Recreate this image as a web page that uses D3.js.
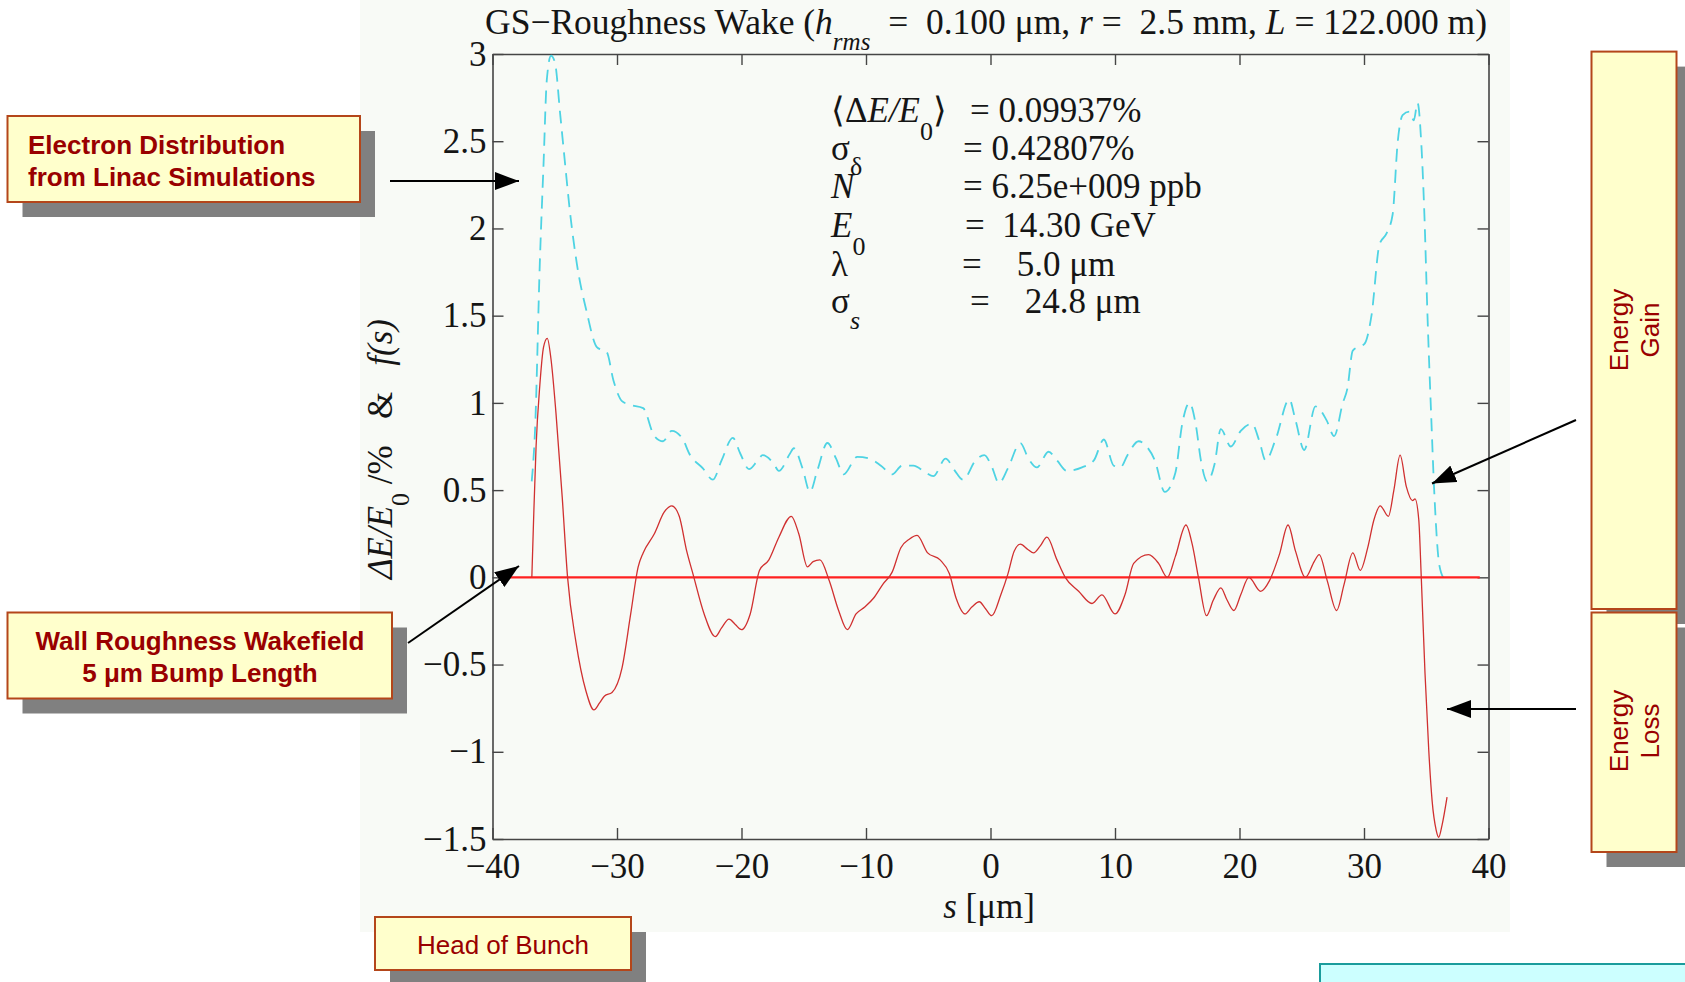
<!DOCTYPE html>
<html>
<head>
<meta charset="utf-8">
<script src="https://cdn.jsdelivr.net/npm/d3@7"></script>
<style>
  body { margin: 0; background: #ffffff; }
  svg text { font-family: "Liberation Serif", "Times New Roman", serif; white-space: pre; fill: #151515; }
  svg .callout text { font-family: "Liberation Sans", Arial, sans-serif; fill: #990000; }
</style>
</head>
<body>
<div id="figure_wake"></div>
<script>
// ---- data ----
// roughness wake, s [um] and dE/E0 [%]
var wake_s  = [-36.84,-36.7,-36.5,-36.2,-35.9,-35.6,-35.3,-34.9,-34.4,-33.97,-33.3,-32.5,-31.85,-31.4,-31.0,-30.4,-29.6,-28.9,-28.3,-27.9,
               -27.0,-26.2,-25.6,-25.0,-24.4,-23.9,-23.0,-22.1,-21.6,-21.0,-20.5,-20.0,-19.3,-18.55,-17.8,-17.0,-16.0,-15.4,-14.7,-14.25,
               -13.7,-12.95,-12.2,-11.5,-10.8,-10.1,-9.4,-8.65,-7.9,-7.2,-6.5,-5.9,-5.05,-4.05,-3.3,-2.76,-2.05,-1.5,-0.9,-0.4,
               0.1,0.83,1.4,1.9,2.4,3.0,3.46,4.0,4.53,5.34,6.0,7.08,8.15,8.95,10.0,10.8,11.5,12.7,13.5,14.2,
               14.85,15.7,16.2,16.7,17.35,17.9,18.5,19.0,19.55,20.1,20.75,21.7,22.4,23.2,23.9,24.5,25.3,26.0,26.4,27.05,
               27.8,28.4,29.1,29.7,30.3,30.8,31.3,31.96,32.4,32.9,33.4,33.9,34.1,34.4,34.6,34.9,35.2,35.47,35.8,36.0,36.27,36.67];
var wake_dE = [0,0.33,0.75,1.10,1.32,1.37,1.25,0.94,0.46,0,-0.37,-0.65,-0.76,-0.72,-0.68,-0.66,-0.52,-0.21,0.06,0.14,
               0.25,0.375,0.41,0.35,0.15,0.02,-0.21,-0.34,-0.29,-0.24,-0.27,-0.30,-0.21,0.04,0.10,0.23,0.35,0.25,0.06,0.09,
               0.10,-0.02,-0.19,-0.30,-0.21,-0.17,-0.12,-0.04,0.03,0.17,0.22,0.24,0.14,0.10,0.02,-0.12,-0.21,-0.17,-0.14,-0.18,
               -0.22,-0.10,0.02,0.15,0.19,0.16,0.14,0.18,0.23,0.10,0,-0.08,-0.15,-0.10,-0.21,-0.10,0.08,0.13,0.08,0.0,
               0.12,0.30,0.19,0,-0.22,-0.13,-0.06,-0.13,-0.19,-0.10,0.0,-0.08,-0.02,0.13,0.30,0.15,0,0.09,0.13,-0.02,
               -0.19,-0.04,0.14,0.04,0.17,0.33,0.41,0.35,0.50,0.70,0.52,0.44,0.45,0.33,0,-0.55,-0.99,-1.28,-1.45,-1.49,-1.42,-1.26];

// electron distribution from linac simulations, f(s)
var dist_s = [-36.85,-36.58,-36.2,-35.9,-35.64,-35.3,-34.98,-34.57,-34.17,-33.77,-33.23,-32.43,-31.62,-30.82,-30.29,-29.6,-29.0,-27.9,-27.0,-26.3,
              -25.6,-24.7,-24.2,-23.1,-22.3,-21.6,-20.7,-20.1,-19.4,-18.7,-18.3,-17.4,-17.0,-16.1,-15.8,-15.1,-14.5,-13.9,-13.1,-12.4,
              -11.8,-10.7,-9.7,-8.8,-7.9,-7.1,-6.2,-5.2,-4.6,-3.6,-2.9,-2.2,-1.2,-0.5,0.1,0.68,1.4,2.4,3.05,3.73,
              4.66,5.34,6.14,7.35,8.3,9.1,9.9,10.43,11.0,11.9,12.4,13.2,14.0,14.85,15.4,15.98,16.5,16.9,17.4,18.0,
              18.5,19.3,20.1,21.0,21.6,22.1,22.9,24.0,24.5,25.2,26.1,27.0,27.6,28.3,28.66,29.1,30.05,30.6,31.25,31.8,
              32.3,32.7,33.1,33.65,34.0,34.3,34.6,34.85,35.1,35.4,35.65,36.05,36.45];
var dist_f = [0.55,0.85,1.80,2.37,2.85,2.99,2.95,2.66,2.37,2.09,1.80,1.52,1.32,1.29,1.13,1.01,0.99,0.97,0.81,0.78,
              0.84,0.79,0.71,0.625,0.56,0.67,0.80,0.71,0.62,0.67,0.70,0.65,0.61,0.71,0.74,0.625,0.49,0.615,0.77,0.68,
              0.59,0.69,0.68,0.64,0.59,0.64,0.64,0.60,0.58,0.68,0.615,0.56,0.67,0.70,0.635,0.54,0.625,0.77,0.68,0.63,
              0.72,0.67,0.61,0.63,0.67,0.79,0.64,0.63,0.70,0.78,0.76,0.67,0.49,0.60,0.88,1.0,0.87,0.67,0.55,0.65,
              0.85,0.75,0.84,0.88,0.78,0.67,0.79,1.02,0.90,0.73,0.98,0.90,0.81,1.0,1.08,1.30,1.34,1.5,1.91,1.97,
              2.08,2.49,2.65,2.67,2.62,2.72,2.49,2.08,1.5,0.92,0.48,0.07,-0.01];

// zero reference line (ends in s)
var zero_line_s = [-39.2, 39.3];

var x_ticks = [-40, -30, -20, -10, 0, 10, 20, 30, 40];
var y_ticks = [-1.5, -1, -0.5, 0, 0.5, 1, 1.5, 2, 2.5, 3];

// beam parameters printed in the plot
var param_values = ["= 0.09937%", "= 0.42807%", "= 6.25e+009 ppb", "=  14.30 GeV", "=    5.0 μm", "=    24.8 μm"];

// ---- layout ----
var W = 1685, H = 982;
var plot = {left: 492.5, right: 1488.5, top: 54, bottom: 839};
var font_size = 35;

var svg = d3.select("#figure_wake").append("svg")
    .attr("width", W)
    .attr("height", H);

var defs = svg.append("defs");
defs.append("marker")
    .attr("id", "arrow_head")
    .attr("markerUnits", "userSpaceOnUse")
    .attr("viewBox", "0 0 24 18")
    .attr("markerWidth", 24)
    .attr("markerHeight", 18)
    .attr("refX", 24)
    .attr("refY", 9)
    .attr("orient", "auto")
  .append("path")
    .attr("d", "M0,0 L24,9 L0,18 Z")
    .attr("fill", "#000");

defs.append("clipPath").attr("id", "plot_clip")
  .append("rect")
    .attr("x", plot.left).attr("y", plot.top - 2)
    .attr("width", plot.right - plot.left).attr("height", plot.bottom - plot.top + 2);

// figure background (matlab window)
svg.append("rect")
    .attr("x", 360).attr("y", 0)
    .attr("width", 1150).attr("height", 932)
    .attr("fill", "#f8faf6");

// scales
var x_scale = d3.scaleLinear().domain([-40, 40]).range([plot.left, plot.right]);
var y_scale = d3.scaleLinear().domain([-1.5, 3]).range([plot.bottom, plot.top]);

var fmt = d3.format("");

// axes, ticks pointing inwards on all four sides
function style_axis(g) {
  g.select(".domain").attr("stroke", "#454545").attr("stroke-width", 1.6);
  g.selectAll(".tick line").attr("stroke", "#454545").attr("stroke-width", 1.4);
  g.selectAll(".tick text")
    .attr("fill", "#151515")
    .style("font-family", "'Liberation Serif', 'Times New Roman', serif")
    .style("font-size", font_size + "px");
}

svg.append("g")
    .attr("transform", "translate(0," + plot.bottom + ")")
    .call(d3.axisBottom(x_scale).tickValues(x_ticks).tickFormat(fmt)
          .tickSizeInner(-11).tickSizeOuter(0).tickPadding(14))
    .call(style_axis);

svg.append("g")
    .attr("transform", "translate(0," + plot.top + ")")
    .call(d3.axisTop(x_scale).tickValues(x_ticks).tickFormat("")
          .tickSizeInner(-11).tickSizeOuter(0))
    .call(style_axis);

svg.append("g")
    .attr("transform", "translate(" + plot.left + ",0)")
    .call(d3.axisLeft(y_scale).tickValues(y_ticks).tickFormat(fmt)
          .tickSizeInner(-11).tickSizeOuter(0).tickPadding(6))
    .call(style_axis);

svg.append("g")
    .attr("transform", "translate(" + plot.right + ",0)")
    .call(d3.axisRight(y_scale).tickValues(y_ticks).tickFormat("")
          .tickSizeInner(-11).tickSizeOuter(0))
    .call(style_axis);

// lines
var plot_line = d3.line()
    .x(function(d) { return x_scale(d[0]); })
    .y(function(d) { return y_scale(d[1]); })
    .curve(d3.curveMonotoneX);

var dist_data = dist_s.map(function(s, i) { return [s, dist_f[i]]; });
var wake_data = wake_s.map(function(s, i) { return [s, wake_dE[i]]; });

var lines_g = svg.append("g").attr("clip-path", "url(#plot_clip)");

lines_g.append("path")
    .datum(dist_data)
    .attr("d", plot_line)
    .attr("fill", "none")
    .attr("stroke", "#4ed3e3")
    .attr("stroke-width", 1.8)
    .attr("stroke-dasharray", "13,8");

lines_g.append("path")
    .datum(zero_line_s.map(function(s) { return [s, 0]; }))
    .attr("d", plot_line)
    .attr("stroke", "#ff2020")
    .attr("stroke-width", 2.2);

lines_g.append("path")
    .datum(wake_data)
    .attr("d", plot_line)
    .attr("fill", "none")
    .attr("stroke", "#d03030")
    .attr("stroke-width", 1.3);

// title
var title = svg.append("text")
    .attr("x", 986).attr("y", 34)
    .attr("text-anchor", "middle")
    .style("font-size", "35.5px");
title.append("tspan").text("GS−Roughness Wake (");
title.append("tspan").style("font-style", "italic").text("h");
title.append("tspan").attr("dy", 16).style("font-style", "italic").style("font-size", "25px").text("rms");
title.append("tspan").attr("dy", -16).text("  =  0.100 μm, ");
title.append("tspan").style("font-style", "italic").text("r");
title.append("tspan").text(" =  2.5 mm, ");
title.append("tspan").style("font-style", "italic").text("L");
title.append("tspan").text(" = 122.000 m)");

// x label
var xlab = svg.append("text")
    .attr("x", 989).attr("y", 918)
    .attr("text-anchor", "middle")
    .style("font-size", font_size + "px");
xlab.append("tspan").style("font-style", "italic").text("s");
xlab.append("tspan").text(" [μm]");

// y label
var ylab = svg.append("text")
    .attr("transform", "translate(392,449) rotate(-90)")
    .attr("text-anchor", "middle")
    .style("font-size", font_size + "px");
ylab.append("tspan").style("font-style", "italic").text("ΔE/E");
ylab.append("tspan").attr("dy", 17).style("font-size", "26px").text("0");
ylab.append("tspan").attr("dy", -17).text(" /%   &   ");
ylab.append("tspan").style("font-style", "italic").text("f(s)");

// parameter block
var par_g = svg.append("g").style("font-size", font_size + "px");
var par_base = [122, 160, 198, 237, 276, 313];
var eq_x = [970, 963, 963, 965, 962, 970];

function sym_line(i) {
  return par_g.append("text").attr("x", 831).attr("y", par_base[i]);
}
var t0 = sym_line(0);
t0.append("tspan").text("⟨Δ");
t0.append("tspan").style("font-style", "italic").text("E/E");
t0.append("tspan").attr("dy", 18).style("font-size", "26px").text("0");
t0.append("tspan").attr("dy", -18).text("⟩");
var t1 = sym_line(1);
t1.append("tspan").text("σ");
t1.append("tspan").attr("dy", 15).style("font-size", "26px").text("δ");
var t2 = sym_line(2);
t2.append("tspan").style("font-style", "italic").text("N");
var t3 = sym_line(3);
t3.append("tspan").style("font-style", "italic").text("E");
t3.append("tspan").attr("dy", 18).style("font-size", "26px").text("0");
var t4 = sym_line(4);
t4.append("tspan").text("λ");
var t5 = sym_line(5);
t5.append("tspan").text("σ");
t5.append("tspan").attr("dy", 16).style("font-size", "26px").style("font-style", "italic").text("s");

par_g.selectAll(".par_val")
    .data(param_values).enter()
    .append("text")
    .attr("class", "par_val")
    .attr("x", function(d, i) { return eq_x[i]; })
    .attr("y", function(d, i) { return par_base[i]; })
    .text(function(d) { return d; });

// ---- callout boxes ----
function callout(bx, by, bw, bh, shadow) {
  var g = svg.append("g").attr("class", "callout");
  if (shadow) {
    g.append("rect")
      .attr("x", bx + 15).attr("y", by + 15)
      .attr("width", bw).attr("height", bh)
      .attr("fill", "#808080");
  }
  g.append("rect")
    .attr("x", bx).attr("y", by)
    .attr("width", bw).attr("height", bh)
    .attr("fill", "#ffffcc")
    .attr("stroke", "#b4461a")
    .attr("stroke-width", 2);
  return g;
}

var c1 = callout(7.5, 116, 352.5, 86, true);
c1.append("text").attr("x", 28).attr("y", 154).style("font-size", "26px").style("font-weight", "bold")
  .text("Electron Distribution");
c1.append("text").attr("x", 28).attr("y", 186).style("font-size", "26px").style("font-weight", "bold")
  .text("from Linac Simulations");

var c2 = callout(7.5, 612.5, 384.5, 86, true);
c2.append("text").attr("x", 200).attr("y", 650).attr("text-anchor", "middle")
  .style("font-size", "26px").style("font-weight", "bold").text("Wall Roughness Wakefield");
c2.append("text").attr("x", 200).attr("y", 682).attr("text-anchor", "middle")
  .style("font-size", "26px").style("font-weight", "bold").text("5 μm Bump Length");

var c3 = callout(375, 917, 256, 53, true);
c3.append("text").attr("x", 503).attr("y", 954).attr("text-anchor", "middle")
  .style("font-size", "26px").text("Head of Bunch");

var c4 = callout(1591.5, 51.6, 85, 557.4, true);
c4.append("text").attr("transform", "translate(1628,330) rotate(-90)").attr("text-anchor", "middle")
  .style("font-size", "26px").text("Energy");
c4.append("text").attr("transform", "translate(1659,330) rotate(-90)").attr("text-anchor", "middle")
  .style("font-size", "26px").text("Gain");

var c5 = callout(1591.5, 612.5, 85, 239.5, true);
c5.append("text").attr("transform", "translate(1628,731) rotate(-90)").attr("text-anchor", "middle")
  .style("font-size", "26px").text("Energy");
c5.append("text").attr("transform", "translate(1659,731) rotate(-90)").attr("text-anchor", "middle")
  .style("font-size", "26px").text("Loss");

// cyan box cut by the bottom edge
svg.append("rect")
    .attr("x", 1320).attr("y", 964)
    .attr("width", 380).attr("height", 40)
    .attr("fill", "#ccffff")
    .attr("stroke", "#1a9c9c")
    .attr("stroke-width", 2);

// ---- arrows ----
var arrows = [
  [390, 181, 519, 181],
  [408, 643, 519, 566],
  [1576, 420, 1432, 483.5],
  [1576, 709, 1447, 709]
];
svg.selectAll(".arrow")
    .data(arrows).enter()
    .append("line")
    .attr("class", "arrow")
    .attr("x1", function(d) { return d[0]; })
    .attr("y1", function(d) { return d[1]; })
    .attr("x2", function(d) { return d[2]; })
    .attr("y2", function(d) { return d[3]; })
    .attr("stroke", "#000")
    .attr("stroke-width", 2)
    .attr("marker-end", "url(#arrow_head)");
</script>
</body>
</html>
